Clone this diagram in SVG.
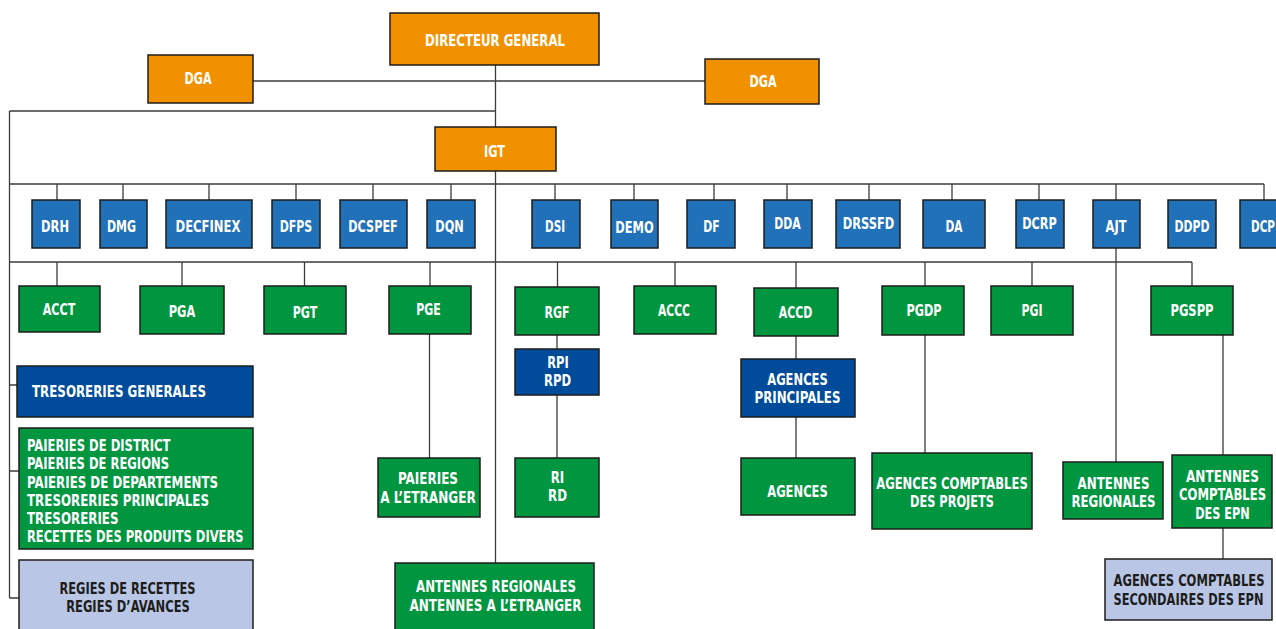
<svg xmlns="http://www.w3.org/2000/svg" width="1276" height="629" viewBox="0 0 1276 629">
<style>
rect{stroke:#1d1d1b;stroke-width:1.5}
.o{fill:#f29100}.b{fill:#2171b9}.d{fill:#004c9b}.g{fill:#00963f}.l{fill:#bac6e6}
text{font-family:"Liberation Sans Narrow","DejaVu Sans Condensed","Liberation Sans",sans-serif;font-weight:bold;font-size:16px;fill:#fff;text-anchor:middle}
text.k{fill:#1d1d1b}
text.s{text-anchor:start}
#connectors path{stroke:#3c3c3b;stroke-width:1.3;fill:none}
</style>
<rect width="1276" height="629" fill="#fff" style="stroke:none"/>
<g id="connectors">
<path d="M253,81H705M495.5,65V127M9.5,111H495.5M9.5,111V598M495.5,171V563"/>
<path d="M9.5,184H1264M57,184V200M123,184V200M209,184V200M296,184V200M373,184V200M451,184V200M555,184V200M634,184V200M714,184V200M787,184V200M869,184V200M952,184V200M1039,184V200M1116,184V200M1264,184V200"/>
<path d="M9.5,262H1192M57,262V286M182,262V286M304.5,262V286M430,262V286M557.5,262V287M675,262V286M796,262V288M925,262V286M1032,262V286M1192,262V286"/>
<path d="M1116,248V462M9.5,385H17M9.5,471H19M9.5,598H19"/>
<path d="M429.5,334V458M557,335V349M557,395V458M796,336V359M796,417V458M925,335V453M1223,335V455M1223,528V559"/>
</g>
<g id="dg"><rect class="o" x="390" y="13" width="209" height="52"/><text x="495" y="46" textLength="140" lengthAdjust="spacingAndGlyphs">DIRECTEUR GENERAL</text></g>
<g id="dga1"><rect class="o" x="148" y="55" width="105" height="48"/><text x="198" y="84" textLength="27" lengthAdjust="spacingAndGlyphs">DGA</text></g>
<g id="dga2"><rect class="o" x="705" y="59" width="114" height="45"/><text x="763" y="87" textLength="27" lengthAdjust="spacingAndGlyphs">DGA</text></g>
<g id="igt"><rect class="o" x="435" y="127" width="121" height="44"/><text x="494.5" y="157" textLength="21" lengthAdjust="spacingAndGlyphs">IGT</text></g>

<g id="drh"><rect class="b" x="32" y="200" width="48" height="48"/><text x="55" y="232" textLength="28" lengthAdjust="spacingAndGlyphs">DRH</text></g>
<g id="dmg"><rect class="b" x="100" y="200" width="47" height="48"/><text x="121.5" y="232" textLength="29" lengthAdjust="spacingAndGlyphs">DMG</text></g>
<g id="decfinex"><rect class="b" x="166" y="200" width="86" height="48"/><text x="208" y="232" textLength="65" lengthAdjust="spacingAndGlyphs">DECFINEX</text></g>
<g id="dfps"><rect class="b" x="272" y="200" width="48" height="48"/><text x="296" y="232" textLength="32.5" lengthAdjust="spacingAndGlyphs">DFPS</text></g>
<g id="dcspef"><rect class="b" x="340" y="200" width="67" height="48"/><text x="373" y="232" textLength="49.5" lengthAdjust="spacingAndGlyphs">DCSPEF</text></g>
<g id="dqn"><rect class="b" x="427" y="200" width="48" height="48"/><text x="449.5" y="232" textLength="28.5" lengthAdjust="spacingAndGlyphs">DQN</text></g>
<g id="dsi"><rect class="b" x="532" y="200" width="48" height="48"/><text x="555" y="232" textLength="20" lengthAdjust="spacingAndGlyphs">DSI</text></g>
<g id="demo"><rect class="b" x="611" y="200" width="47" height="48"/><text x="634.5" y="233" textLength="38.5" lengthAdjust="spacingAndGlyphs">DEMO</text></g>
<g id="df"><rect class="b" x="687" y="200" width="48" height="48"/><text x="711.5" y="232" textLength="16.5" lengthAdjust="spacingAndGlyphs">DF</text></g>
<g id="dda"><rect class="b" x="764" y="200" width="48" height="48"/><text x="787.5" y="229" textLength="26.5" lengthAdjust="spacingAndGlyphs">DDA</text></g>
<g id="drssfd"><rect class="b" x="836" y="200" width="64" height="48"/><text x="868.5" y="229" textLength="51.5" lengthAdjust="spacingAndGlyphs">DRSSFD</text></g>
<g id="da"><rect class="b" x="923" y="200" width="62" height="48"/><text x="954" y="232" textLength="17" lengthAdjust="spacingAndGlyphs">DA</text></g>
<g id="dcrp"><rect class="b" x="1016" y="200" width="48" height="48"/><text x="1039.5" y="229" textLength="34.5" lengthAdjust="spacingAndGlyphs">DCRP</text></g>
<g id="ajt"><rect class="b" x="1093" y="200" width="47" height="48"/><text x="1116" y="232" textLength="21" lengthAdjust="spacingAndGlyphs">AJT</text></g>
<g id="ddpd"><rect class="b" x="1168" y="200" width="48" height="48"/><text x="1192" y="232" textLength="35" lengthAdjust="spacingAndGlyphs">DDPD</text></g>
<g id="dcp"><rect class="b" x="1240" y="200" width="50" height="48"/><text x="1263" y="232" textLength="24" lengthAdjust="spacingAndGlyphs">DCP</text></g>

<g id="acct"><rect class="g" x="19" y="286" width="81" height="46"/><text x="59" y="315" textLength="32.5" lengthAdjust="spacingAndGlyphs">ACCT</text></g>
<g id="pga"><rect class="g" x="140" y="286" width="84" height="48"/><text x="182" y="317" textLength="26.5" lengthAdjust="spacingAndGlyphs">PGA</text></g>
<g id="pgt"><rect class="g" x="264" y="286" width="82" height="48"/><text x="305" y="318" textLength="24.5" lengthAdjust="spacingAndGlyphs">PGT</text></g>
<g id="pge"><rect class="g" x="389" y="286" width="82" height="48"/><text x="428.5" y="315" textLength="24.5" lengthAdjust="spacingAndGlyphs">PGE</text></g>
<g id="rgf"><rect class="g" x="515" y="287" width="84" height="48"/><text x="557" y="318" textLength="25" lengthAdjust="spacingAndGlyphs">RGF</text></g>
<g id="accc"><rect class="g" x="634" y="286" width="82" height="48"/><text x="674" y="316" textLength="32" lengthAdjust="spacingAndGlyphs">ACCC</text></g>
<g id="accd"><rect class="g" x="754" y="288" width="84" height="48"/><text x="795.5" y="318" textLength="33.5" lengthAdjust="spacingAndGlyphs">ACCD</text></g>
<g id="pgdp"><rect class="g" x="882" y="286" width="82" height="49"/><text x="924" y="316" textLength="35" lengthAdjust="spacingAndGlyphs">PGDP</text></g>
<g id="pgi"><rect class="g" x="991" y="286" width="82" height="49"/><text x="1032" y="316" textLength="21" lengthAdjust="spacingAndGlyphs">PGI</text></g>
<g id="pgspp"><rect class="g" x="1151" y="286" width="82" height="49"/><text x="1192" y="316" textLength="43" lengthAdjust="spacingAndGlyphs">PGSPP</text></g>

<g id="tresoreries-generales"><rect class="d" x="17" y="366" width="236" height="51"/><text class="s" x="32" y="397" textLength="174" lengthAdjust="spacingAndGlyphs">TRESORERIES GENERALES</text></g>
<g id="paieries"><rect class="g" x="19" y="428" width="234" height="121"/>
<text class="s" x="27" y="451" textLength="143.5" lengthAdjust="spacingAndGlyphs">PAIERIES DE DISTRICT</text>
<text class="s" x="27" y="469" textLength="142" lengthAdjust="spacingAndGlyphs">PAIERIES DE REGIONS</text>
<text class="s" x="27" y="488" textLength="191" lengthAdjust="spacingAndGlyphs">PAIERIES DE DEPARTEMENTS</text>
<text class="s" x="27" y="506" textLength="182" lengthAdjust="spacingAndGlyphs">TRESORERIES PRINCIPALES</text>
<text class="s" x="27" y="524" textLength="91.5" lengthAdjust="spacingAndGlyphs">TRESORERIES</text>
<text class="s" x="27" y="542" textLength="216.5" lengthAdjust="spacingAndGlyphs">RECETTES DES PRODUITS DIVERS</text></g>
<g id="regies"><rect class="l" x="19" y="560" width="234" height="80"/>
<text class="k" x="127.5" y="594" textLength="136" lengthAdjust="spacingAndGlyphs">REGIES DE RECETTES</text>
<text class="k" x="128" y="612" textLength="123.5" lengthAdjust="spacingAndGlyphs">REGIES D’AVANCES</text></g>

<g id="paieries-etranger"><rect class="g" x="378" y="458" width="102" height="59"/>
<text x="428" y="484" textLength="60" lengthAdjust="spacingAndGlyphs">PAIERIES</text>
<text x="428" y="503" textLength="95.5" lengthAdjust="spacingAndGlyphs">A L’ETRANGER</text></g>
<g id="rpi"><rect class="d" x="515" y="349" width="84" height="46"/>
<text x="558" y="368" textLength="21.5" lengthAdjust="spacingAndGlyphs">RPI</text>
<text x="557.5" y="386" textLength="27" lengthAdjust="spacingAndGlyphs">RPD</text></g>
<g id="ri"><rect class="g" x="515" y="458" width="84" height="59"/>
<text x="557.5" y="483" textLength="13.5" lengthAdjust="spacingAndGlyphs">RI</text>
<text x="557.5" y="501" textLength="19" lengthAdjust="spacingAndGlyphs">RD</text></g>
<g id="antennes-igt"><rect class="g" x="395" y="563" width="199" height="75"/>
<text x="496" y="592" textLength="160" lengthAdjust="spacingAndGlyphs">ANTENNES REGIONALES</text>
<text x="495.5" y="611" textLength="172" lengthAdjust="spacingAndGlyphs">ANTENNES A L’ETRANGER</text></g>

<g id="agences-principales"><rect class="d" x="741" y="359" width="114" height="58"/>
<text x="797.5" y="385" textLength="60.5" lengthAdjust="spacingAndGlyphs">AGENCES</text>
<text x="797.5" y="403" textLength="86" lengthAdjust="spacingAndGlyphs">PRINCIPALES</text></g>
<g id="agences"><rect class="g" x="741" y="458" width="114" height="57"/>
<text x="797.5" y="497" textLength="60.5" lengthAdjust="spacingAndGlyphs">AGENCES</text></g>
<g id="agences-projets"><rect class="g" x="872" y="453" width="160" height="76"/>
<text x="952" y="489" textLength="151.5" lengthAdjust="spacingAndGlyphs">AGENCES COMPTABLES</text>
<text x="952" y="507" textLength="84" lengthAdjust="spacingAndGlyphs">DES PROJETS</text></g>
<g id="antennes-ajt"><rect class="g" x="1063" y="462" width="100" height="57"/>
<text x="1113.5" y="489" textLength="72" lengthAdjust="spacingAndGlyphs">ANTENNES</text>
<text x="1113.5" y="507" textLength="84" lengthAdjust="spacingAndGlyphs">REGIONALES</text></g>
<g id="antennes-epn"><rect class="g" x="1172" y="455" width="100" height="73"/>
<text x="1222.5" y="482" textLength="73" lengthAdjust="spacingAndGlyphs">ANTENNES</text>
<text x="1222.5" y="500" textLength="87" lengthAdjust="spacingAndGlyphs">COMPTABLES</text>
<text x="1222.5" y="519" textLength="54.5" lengthAdjust="spacingAndGlyphs">DES EPN</text></g>
<g id="agences-secondaires"><rect class="l" x="1105" y="559" width="167" height="61"/>
<text class="k" x="1189" y="586" textLength="151" lengthAdjust="spacingAndGlyphs">AGENCES COMPTABLES</text>
<text class="k" x="1188.5" y="605" textLength="150" lengthAdjust="spacingAndGlyphs">SECONDAIRES DES EPN</text></g>
</svg>
